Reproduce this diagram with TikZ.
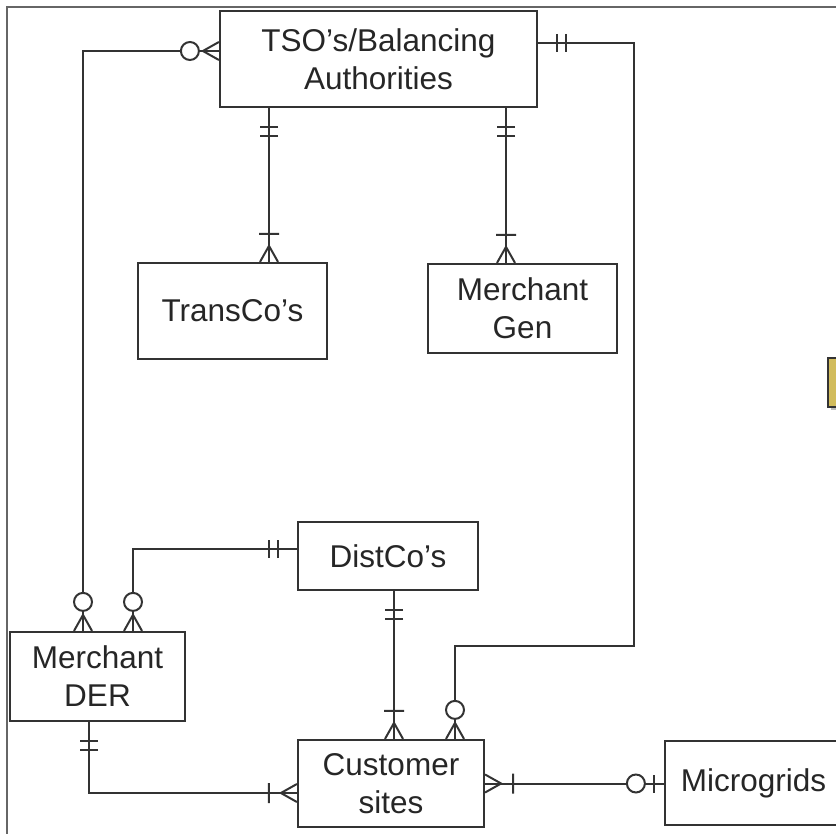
\documentclass[tikz,border=0pt]{standalone}
\usepackage{fontspec}
\setmainfont{Liberation Sans}
\usetikzlibrary{shadows}
\definecolor{tabgold}{HTML}{D2BC5C}
\begin{document}
\begin{tikzpicture}[x=1pt, y=-1pt, line width=2pt, draw=black!80,
	entity/.style={rectangle, draw, line width=2.2pt, inner sep=0pt, align=center, text=black!85, font=\fontsize{31.5}{38}\selectfont},
	onlyone/.pic={\draw (19,-9) -- (19,9) (28,-9) -- (28,9);},
	onemany/.pic={\draw (0,-9) -- (16,0) -- (0,9) (28,-10) -- (28,10);},
	zeromany/.pic={\draw (0,-9) -- (16,0) -- (0,9); \draw[fill=white] (29,0) circle (9pt);},
	zeroone/.pic={\draw (10,-9) -- (10,9); \draw[fill=white] (28,0) circle (9pt);}]
	\useasboundingbox (0,0) rectangle (836,834);
	\draw[black!60, line width=1.2pt] (7,834) -- (7,7) -- (836,7);
	\node (tab) at (836,382.5) [rectangle, draw=black!80, line width=1.5pt, fill=tabgold, minimum width=16pt, minimum height=49pt, drop shadow]	{};

	\node (TSO) at (378.5, 59)		[entity, minimum width=317pt, minimum height=96pt]	{TSO’s/Balancing\\Authorities};
	\node (TransCo) at (232.5, 311)		[entity, minimum width=189pt, minimum height=96pt]	{TransCo’s};
	\node (MerchGen) at (522.5, 308.5)	[entity, minimum width=189pt, minimum height=89pt]	{Merchant\\Gen};
	\node (DistCo) at (388, 556)		[entity, minimum width=180pt, minimum height=68pt]	{DistCo’s};
	\node (DER) at (97.5, 676.5)		[entity, minimum width=175pt, minimum height=89pt]	{Merchant\\DER};
	\node (Customer) at (391, 783.5)	[entity, minimum width=186pt, minimum height=87pt]	{Customer\\sites};
	\node (Microgrids) at (753.5, 783)	[entity, minimum width=177pt, minimum height=84pt]	{Microgrids};

	% columns and rows the connectors run along
	\coordinate (transX) at (269,0);
	\coordinate (genX) at (506,0);
	\coordinate (distX) at (394,0);
	\coordinate (derA) at (83,0);
	\coordinate (derB) at (133,0);
	\coordinate (derC) at (89,0);
	\coordinate (custB) at (455,0);
	\coordinate (tsoL) at (0,51);
	\coordinate (tsoR) at (0,43);
	\coordinate (distL) at (0,549);
	\coordinate (custL) at (0,793);
	\coordinate (bendR) at (634,646);

	\draw (TSO.south -| transX) -- (TransCo.north -| transX);
	\draw (TSO.south -| genX) -- (MerchGen.north -| genX);
	\draw (TSO.west |- tsoL) -| (DER.north -| derA);
	\draw (TSO.east |- tsoR) -| (bendR) -| (Customer.north -| custB);
	\draw (DistCo.west |- distL) -| (DER.north -| derB);
	\draw (DistCo.south -| distX) -- (Customer.north -| distX);
	\draw (DER.south -| derC) |- (Customer.west |- custL);
	\draw (Customer.east) -- (Customer.east -| Microgrids.west);

	% line ends
	\pic[rotate=-90] at (TSO.south -| transX) {onlyone};
	\pic[rotate=90] at (TransCo.north -| transX) {onemany};
	\pic[rotate=-90] at (TSO.south -| genX) {onlyone};
	\pic[rotate=90] at (MerchGen.north -| genX) {onemany};
	\pic[rotate=180] at (TSO.west |- tsoL) {zeromany};
	\pic[rotate=90] at (DER.north -| derA) {zeromany};
	\pic at (TSO.east |- tsoR) {onlyone};
	\pic[rotate=90] at (Customer.north -| custB) {zeromany};
	\pic[rotate=180] at (DistCo.west |- distL) {onlyone};
	\pic[rotate=90] at (DER.north -| derB) {zeromany};
	\pic[rotate=-90] at (DistCo.south -| distX) {onlyone};
	\pic[rotate=90] at (Customer.north -| distX) {onemany};
	\pic[rotate=-90] at (DER.south -| derC) {onlyone};
	\pic[rotate=180] at (Customer.west |- custL) {onemany};
	\pic at (Customer.east) {onemany};
	\pic[rotate=180] at (Customer.east -| Microgrids.west) {zeroone};
\end{tikzpicture}
\end{document}
